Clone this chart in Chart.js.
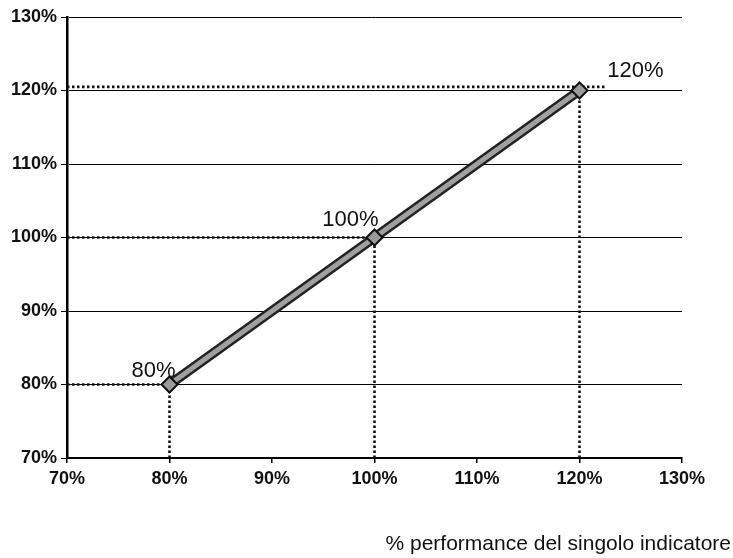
<!DOCTYPE html>
<html>
<head>
<meta charset="utf-8">
<script src="https://cdn.jsdelivr.net/npm/chart.js@4/dist/chart.umd.min.js"></script>
<style>
  html, body { margin: 0; padding: 0; background: #fff; }
  #wrap { width: 733px; height: 558px; position: relative; }
</style>
</head>
<body>
<div id="wrap"><canvas id="c"></canvas></div>
<script>
// ---- data ----
const xTicks = [70, 80, 90, 100, 110, 120, 130];
const yTicks = [70, 80, 90, 100, 110, 120, 130];
const perfX = [80, 100, 120];            // % performance del singolo indicatore
const perfY = [80, 100, 120];            // % payout
const pointLabels = ['80%', '100%', '120%'];
const guideY = [80, 100, 120.5];         // horizontal dotted guide levels
const guideXEnd = [80, 100, 122.5];      // where horizontal dotted guides end
const axisTitle = '% performance del singolo indicatore';

const FONT = '"Liberation Sans", Arial, sans-serif';

const lineData = perfX.map((x, i) => ({ x: x, y: perfY[i] }));

const guideSets = [];
perfX.forEach((x, i) => {
  guideSets.push({
    data: [{ x: xTicks[0], y: guideY[i] }, { x: guideXEnd[i], y: guideY[i] }],
    borderColor: '#111', borderWidth: 2.6, borderDash: [2.5, 2.5],
    pointRadius: 0, fill: false, order: 3
  });
  guideSets.push({
    data: [{ x: x, y: yTicks[0] }, { x: x, y: perfY[i] }],
    borderColor: '#111', borderWidth: 2.6, borderDash: [2.5, 2.5],
    pointRadius: 0, fill: false, order: 3
  });
});

const labelOffsets = [[-16, -14], [-24, -18], [56, -20]];

const annot = {
  id: 'annot',
  afterDatasetsDraw(chart) {
    const { ctx, scales } = chart;
    ctx.save();
    ctx.fillStyle = '#111';
    ctx.font = '22px ' + FONT;
    ctx.textAlign = 'center';
    ctx.textBaseline = 'middle';
    perfX.forEach((x, i) => {
      const px = scales.x.getPixelForValue(x) + labelOffsets[i][0];
      const py = scales.y.getPixelForValue(perfY[i]) + labelOffsets[i][1];
      ctx.fillText(pointLabels[i], px, py);
    });
    ctx.font = '21px ' + FONT;
    ctx.textAlign = 'right';
    ctx.textBaseline = 'alphabetic';
    ctx.fillText(axisTitle, 731, 550);
    ctx.restore();
  }
};

new Chart(document.getElementById('c'), {
  type: 'line',
  data: {
    datasets: [
      ...guideSets,
      {
        data: lineData, borderColor: '#222', borderWidth: 10,
        pointRadius: 0, fill: false, order: 2
      },
      {
        data: lineData, borderColor: '#a0a0a0', borderWidth: 5,
        pointStyle: 'rectRot', pointRadius: 8,
        pointBackgroundColor: '#9a9a9a', pointBorderColor: '#111', pointBorderWidth: 2,
        fill: false, order: 1
      }
    ]
  },
  options: {
    responsive: true,
    maintainAspectRatio: false,
    animation: false,
    layout: { padding: { left: 0, top: 17, right: 51, bottom: 0 } },
    plugins: { legend: { display: false }, tooltip: { enabled: false } },
    scales: {
      x: {
        type: 'linear', min: 70, max: 130,
        afterBuildTicks(s) { s.ticks = xTicks.map(v => ({ value: v })); },
        afterFit(s) { s.height = 100; },
        grid: { drawOnChartArea: false, drawTicks: true, tickLength: 5, color: '#000', lineWidth: 1.5 },
        border: { color: '#000', width: 2 },
        ticks: {
          autoSkip: false, maxRotation: 0, padding: 5, color: '#111',
          font: { family: FONT, size: 18, weight: 'bold' },
          callback: v => v + '%'
        }
      },
      y: {
        type: 'linear', min: 70, max: 130,
        afterBuildTicks(s) { s.ticks = yTicks.map(v => ({ value: v })); },
        afterFit(s) { s.width = 67; },
        grid: { color: '#000', lineWidth: 1, tickLength: 6 },
        border: { color: '#000', width: 2.5 },
        ticks: {
          autoSkip: false, padding: 4, color: '#111',
          font: { family: FONT, size: 18, weight: 'bold' },
          callback: v => v + '%'
        }
      }
    }
  },
  plugins: [annot]
});
</script>
</body>
</html>
